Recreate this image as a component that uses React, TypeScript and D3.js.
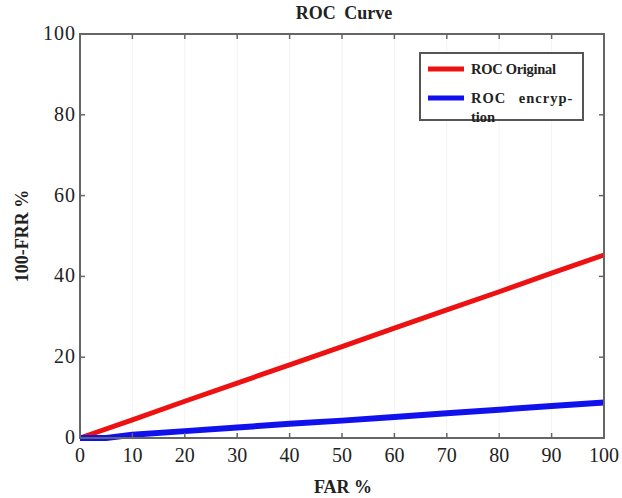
import React, { useEffect, useRef } from "react"
import * as d3 from "d3"

const farValues = [0, 10, 20, 30, 40, 50, 60, 70, 80, 90, 100]
const originalValues = [0, 4.5, 9.1, 13.6, 18.1, 22.6, 27.2, 31.7, 36.2, 40.8, 45.3]
const encryptionFar = [0, 5, 10, 20, 30, 40, 50, 60, 70, 80, 90, 100]
const encryptionValues = [0, 0, 0.8, 1.7, 2.6, 3.5, 4.3, 5.2, 6.1, 7.0, 7.9, 8.8]
const xTicks = [0, 10, 20, 30, 40, 50, 60, 70, 80, 90, 100]
const yTicks = [0, 20, 40, 60, 80, 100]
const seriesNames = ["ROC Original", "ROC encryp-"]
const seriesColors = ["#ee1111", "#1111ee"]

const W = 622, H = 498
const margin = { left: 80, right: 18, top: 34, bottom: 60 }
const font = "Liberation Serif, DejaVu Serif, serif"

export default function App() {
  const ref = useRef<SVGSVGElement>(null)

  useEffect(() => {
    const svg = d3.select(ref.current)
    svg.selectAll("*").remove()
    const iw = W - margin.left - margin.right
    const ih = H - margin.top - margin.bottom
    const x = d3.scaleLinear().domain([0, 100]).range([0, iw])
    const y = d3.scaleLinear().domain([0, 100]).range([ih, 0])
    const g = svg.append("g").attr("transform", `translate(${margin.left},${margin.top})`)

    // faint background grid
    g.selectAll(".grid").data(xTicks.slice(1, -1)).join("line")
      .attr("x1", d => x(d)).attr("x2", d => x(d)).attr("y1", 0).attr("y2", ih)
      .attr("stroke", "#f3f3f3").attr("stroke-width", 1)

    const line = d3.line<[number, number]>().x(d => x(d[0])).y(d => y(d[1]))
    g.append("path").datum(farValues.map((f, i) => [f, originalValues[i]] as [number, number]))
      .attr("d", line).attr("fill", "none").attr("stroke", seriesColors[0]).attr("stroke-width", 5)
    g.append("path").datum(encryptionFar.map((f, i) => [f, encryptionValues[i]] as [number, number]))
      .attr("d", line).attr("fill", "none").attr("stroke", seriesColors[1]).attr("stroke-width", 6)

    // frame
    g.append("rect").attr("width", iw).attr("height", ih).attr("fill", "none")
      .attr("stroke", "#666").attr("stroke-width", 2)

    const tl = 5
    const xAxis = g.append("g")
    xTicks.slice(1, -1).forEach(t => {
      xAxis.append("line").attr("x1", x(t)).attr("x2", x(t)).attr("y1", ih).attr("y2", ih - tl).attr("stroke", "#666").attr("stroke-width", 1.5)
      xAxis.append("line").attr("x1", x(t)).attr("x2", x(t)).attr("y1", 0).attr("y2", tl).attr("stroke", "#666").attr("stroke-width", 1.5)
    })
    xTicks.forEach(t => {
      xAxis.append("text").attr("x", x(t)).attr("y", ih + 24).attr("text-anchor", "middle")
        .attr("font-family", font).attr("font-size", 20).attr("fill", "#222").text(t)
    })
    const yAxis = g.append("g")
    yTicks.slice(1, -1).forEach(t => {
      yAxis.append("line").attr("x1", 0).attr("x2", tl).attr("y1", y(t)).attr("y2", y(t)).attr("stroke", "#666").attr("stroke-width", 1.5)
      yAxis.append("line").attr("x1", iw).attr("x2", iw - tl).attr("y1", y(t)).attr("y2", y(t)).attr("stroke", "#666").attr("stroke-width", 1.5)
    })
    yTicks.forEach(t => {
      yAxis.append("text").attr("x", -4).attr("y", y(t) + 6).attr("text-anchor", "end")
        .attr("font-family", font).attr("font-size", 20).attr("letter-spacing", 1).attr("fill", "#222").text(t)
    })

    svg.append("text").attr("x", 344).attr("y", 19).attr("text-anchor", "middle")
      .attr("font-family", font).attr("font-weight", "bold").attr("font-size", 18).attr("word-spacing", 4)
      .attr("fill", "#222").text("ROC Curve")
    svg.append("text").attr("x", 343).attr("y", 493).attr("text-anchor", "middle")
      .attr("font-family", font).attr("font-weight", "bold").attr("font-size", 18)
      .attr("fill", "#222").text("FAR %")
    svg.append("text").attr("transform", `translate(28,${margin.top + ih / 2}) rotate(-90)`).attr("text-anchor", "middle")
      .attr("font-family", font).attr("font-weight", "bold").attr("font-size", 18)
      .attr("fill", "#222").text("100-FRR %")

    // legend
    const lg = svg.append("g")
    lg.append("rect").attr("x", 420).attr("y", 53).attr("width", 163).attr("height", 67)
      .attr("fill", "#fff").attr("stroke", "#555").attr("stroke-width", 2)
    seriesNames.forEach((n, i) => {
      const ly = 69 + i * 29
      lg.append("line").attr("x1", 428).attr("x2", 464).attr("y1", ly).attr("y2", ly)
        .attr("stroke", seriesColors[i]).attr("stroke-width", 5)
      lg.append("text").attr("x", 471).attr("y", ly + 5).attr("font-family", font).attr("font-weight", "bold")
        .attr("font-size", 14.5).attr("fill", "#222").attr("word-spacing", i === 1 ? 8 : 0)
        .attr("letter-spacing", i === 1 ? 1 : -0.3).text(n)
    })
    lg.append("text").attr("x", 471).attr("y", 122).attr("font-family", font).attr("font-weight", "bold")
      .attr("font-size", 14.5).attr("fill", "#222").text("tion")
  }, [])

  return <svg ref={ref} width={W} height={H} style={{ display: "block", position: "absolute", left: 0, top: 0 }} />
}
